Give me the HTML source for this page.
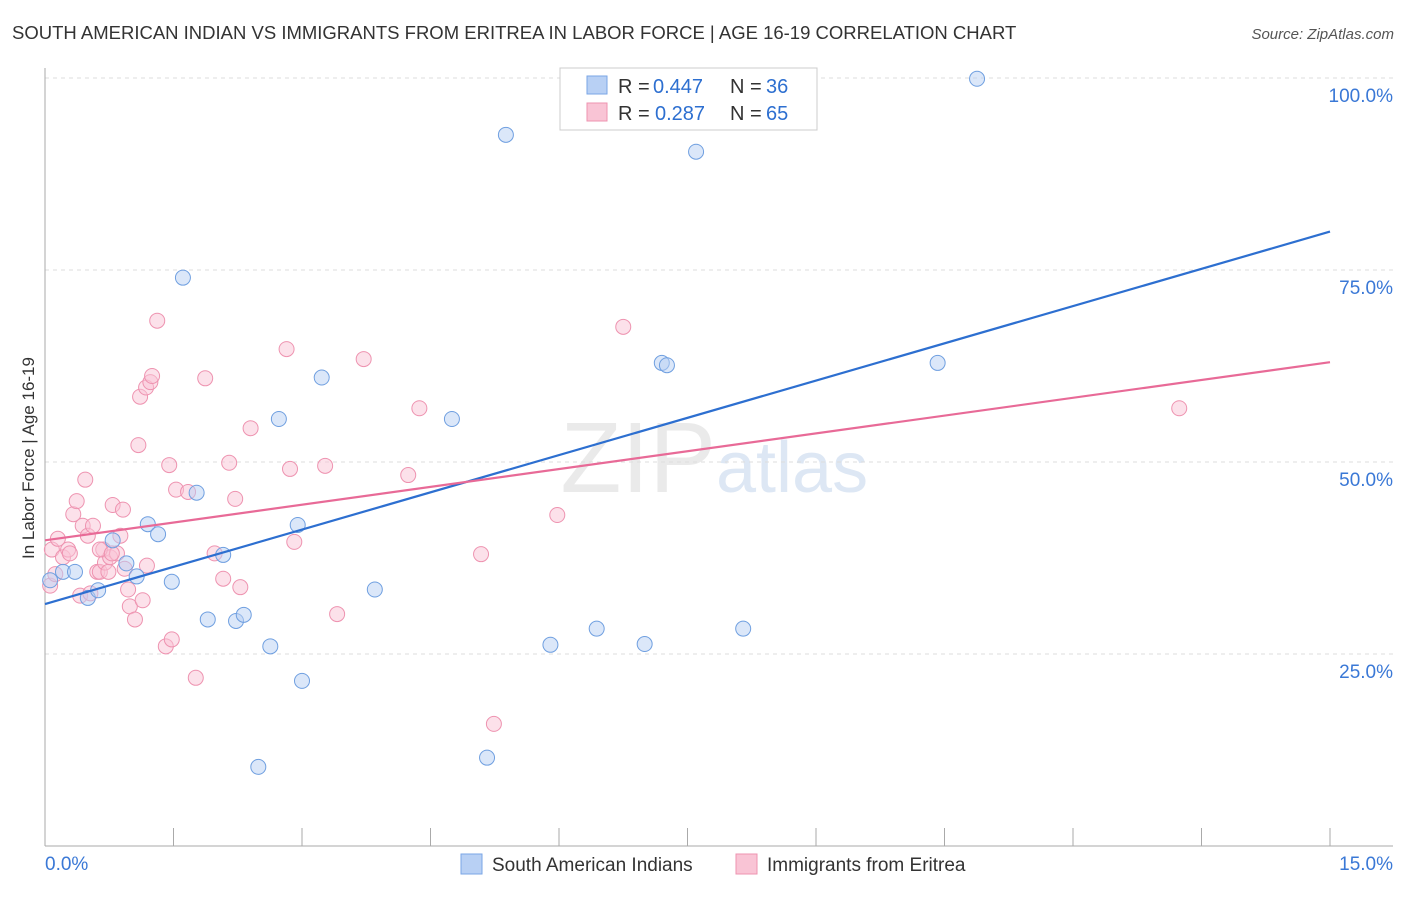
<!DOCTYPE html>
<html><head><meta charset="utf-8"><style>
body{margin:0;background:#fff;font-family:"Liberation Sans",sans-serif}
svg text{font-family:"Liberation Sans",sans-serif}
</style></head><body>
<svg id="c" width="1406" height="892" viewBox="0 0 1406 892">
<text x="12" y="39" font-size="18.5" fill="#333">SOUTH AMERICAN INDIAN VS IMMIGRANTS FROM ERITREA IN LABOR FORCE | AGE 16-19 CORRELATION CHART</text>
<text x="1394" y="39" font-size="15" fill="#555" text-anchor="end" font-style="italic">Source: ZipAtlas.com</text>
<text transform="translate(34,458) rotate(-90)" font-size="17" fill="#333" text-anchor="middle">In Labor Force | Age 16-19</text>
<text x="716" y="492" font-size="100" fill="#ddd" text-anchor="end" font-family="Liberation Serif" opacity="0.6">ZIP</text>
<text x="716" y="492" font-size="72" fill="#c8d8ee" opacity="0.6">atlas</text>
<g id="grid"></g><g id="axes"></g><g id="marks"></g>
<g>
<rect x="560" y="68" width="257" height="62" fill="#fff" stroke="#ccc"/>
<rect x="587" y="76" width="20" height="18" fill="#b8d0f4" stroke="#7aa6e6"/>
<rect x="587" y="103" width="20" height="18" fill="#f9c4d5" stroke="#ee93b0"/>
<text x="618" y="93" font-size="20" fill="#333">R = </text><text x="653" y="93" font-size="20" fill="#2d6fd0">0.447</text>
<text x="730" y="93" font-size="20" fill="#333">N = </text><text x="766" y="93" font-size="20" fill="#2d6fd0">36</text>
<text x="618" y="120" font-size="20" fill="#333">R = </text><text x="655" y="120" font-size="20" fill="#2d6fd0">0.287</text>
<text x="730" y="120" font-size="20" fill="#333">N = </text><text x="766" y="120" font-size="20" fill="#2d6fd0">65</text>
</g>
<g>
<rect x="461" y="854" width="21" height="20" fill="#b8d0f4" stroke="#7aa6e6"/>
<text x="492" y="871" font-size="19" fill="#333">South American Indians</text>
<rect x="736" y="854" width="21" height="20" fill="#f9c4d5" stroke="#ee93b0"/>
<text x="767" y="871" font-size="19" fill="#333">Immigrants from Eritrea</text>
</g>
</svg>
<script>
const yTicks=[25,50,75,100];
const yTickLabels=["25.0%","50.0%","75.0%","100.0%"];
const blueX=[0.06,0.21,0.35,0.5,0.62,0.79,0.95,1.07,1.2,1.32,1.48,1.61,1.77,1.9,2.08,2.23,2.32,2.49,2.63,2.73,2.95,3.0,3.23,3.85,4.75,5.16,5.38,5.9,6.44,7.0,7.2,7.26,7.6,8.15,10.42,10.88];
const blueY=[34.6,35.7,35.7,32.3,33.3,39.8,36.8,35.1,41.9,40.6,34.4,74.0,46.0,29.5,37.9,29.3,30.1,10.3,26.0,55.6,41.8,21.5,61.0,33.4,55.6,11.5,92.6,26.2,28.3,26.3,62.9,62.6,90.4,28.3,62.9,99.9];
const pinkX=[0.06,0.08,0.12,0.15,0.21,0.27,0.29,0.33,0.37,0.41,0.44,0.47,0.5,0.53,0.56,0.61,0.64,0.68,0.7,0.74,0.76,0.79,0.84,0.88,0.91,0.93,0.97,0.99,1.05,1.09,1.11,1.14,1.18,1.23,1.25,1.19,1.31,1.41,1.45,1.48,1.53,1.67,1.76,1.87,1.98,2.08,2.15,2.22,2.28,2.4,2.82,2.86,2.91,3.27,3.41,3.72,4.24,4.37,5.09,5.24,5.98,6.75,13.24,0.64,0.78];
const pinkY=[33.9,38.6,35.4,40.0,37.6,38.6,38.1,43.2,44.9,32.6,41.7,47.7,40.4,32.9,41.7,35.7,35.7,38.6,36.9,35.7,37.6,44.4,38.1,40.4,43.8,36.1,33.4,31.2,29.5,52.2,58.5,32.0,59.7,60.4,61.2,36.5,68.4,26.0,49.6,26.9,46.4,46.1,21.9,60.9,38.1,34.8,49.9,45.2,33.7,54.4,64.7,49.1,39.6,49.5,30.2,63.4,48.3,57.0,38.0,15.9,43.1,67.6,57.0,38.6,38.1];
const blueLine=[31.5,80.0];
const pinkLine=[39.8,63.0];
const X0=45,X1=1330,Y0=846,PY=7.68;
const sx=v=>X0+(v/15)*(X1-X0), sy=v=>Y0-v*PY;
const NS="http://www.w3.org/2000/svg";
function mk(t,a,p){const e=document.createElementNS(NS,t);for(const k in a)e.setAttribute(k,a[k]);p.appendChild(e);return e;}
const grid=document.getElementById('grid'),axes=document.getElementById('axes'),marks=document.getElementById('marks');
yTicks.forEach((t,i)=>{
 const l=mk('line',{x1:45,x2:1393,y1:sy(t),y2:sy(t),stroke:'#ddd','stroke-dasharray':'4,4'},grid);
 
 
 const tx=mk('text',{x:1393,y:sy(t)+24,'font-size':19,fill:'#3a78d6','text-anchor':'end'},axes);
 tx.textContent=yTickLabels[i];
 
 
});
const ya=mk('line',{x1:45,x2:45,y1:68,y2:846,stroke:'#aaa'},axes);


const xa=mk('line',{x1:45,x2:1393,y1:846,y2:846,stroke:'#aaa'},axes);


for(let i=0;i<=10;i++){const x=sx(i*1.5);const t=mk('line',{x1:x,x2:x,y1:828,y2:846,stroke:'#aaa'},axes);
 
 }
const xl0=mk('text',{x:45,y:870,'font-size':19,fill:'#3a78d6'},axes);xl0.textContent='0.0%';


const xl1=mk('text',{x:1393,y:870,'font-size':19,fill:'#3a78d6','text-anchor':'end'},axes);xl1.textContent='15.0%';


function pts(xs,ys,f,s,n){xs.forEach((x,i)=>{const c=mk('circle',{cx:sx(x),cy:sy(ys[i]),r:7.5,fill:f,'fill-opacity':0.5,stroke:s,'stroke-width':1},marks);
 
 });}
pts(pinkX,pinkY,'#f9c4d5','#ee93b0','eritrea-point');
pts(blueX,blueY,'#b8d0f4','#6f9fe0','south-american-indian-point');
const bl=mk('line',{x1:sx(0),y1:sy(blueLine[0]),x2:sx(15),y2:sy(blueLine[1]),stroke:'#2d6fd0','stroke-width':2.2},marks);


const pl=mk('line',{x1:sx(0),y1:sy(pinkLine[0]),x2:sx(15),y2:sy(pinkLine[1]),stroke:'#e86a97','stroke-width':2.2},marks);


</script>
</body></html>
